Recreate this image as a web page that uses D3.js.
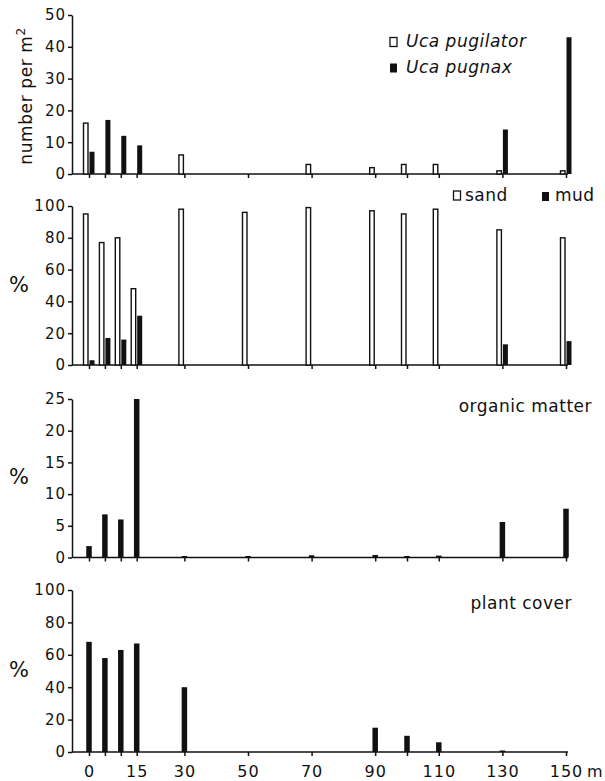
<!DOCTYPE html>
<html>
<head>
<meta charset="utf-8">
<script src="https://cdn.jsdelivr.net/npm/d3@7"></script>
<style>
  body { margin: 0; background: #fff; }
  svg { display: block; }
  text { font-family: "DejaVu Sans", sans-serif; fill: #111; }
</style>
</head>
<body>
<script>
// distances from the shore line (m)
const distances = [0, 5, 10, 15, 30, 50, 70, 90, 100, 110, 130, 150];
const labelledTicks = [0, 15, 30, 50, 70, 90, 110, 130, 150];

// crab densities (number per m2)
const pugilator = [16, 0, 0, 0, 6, 0, 3, 2, 3, 3, 1, 1];
const pugnax = [7, 17, 12, 9, 0, 0, 0, 0, 0, 0, 14, 43];

// sediment composition (%)
const sand = [95, 77, 80, 48, 98, 96, 99, 97, 95, 98, 85, 80];
const mud = [3, 17, 16, 31, 0, 0, 0, 0, 0, 0, 13, 15];

// organic matter (%)
const organic = [1.8, 6.8, 6, 25, 0.2, 0.2, 0.35, 0.4, 0.15, 0.3, 5.6, 7.7];

// plant cover (%)
const plantCover = [68, 58, 63, 67, 40, 0, 0, 15, 10, 6, 0.5, 0];

const width = 605, height = 781;
const axisLeftX = 72, axisRightX = 568;

const svg = d3.select("body").append("svg")
    .attr("width", width)
    .attr("height", height);

const x = d3.scaleLinear().domain([0, 150]).range([89, 566]);

const panels = [
    { top: 15, bottom: 174, max: 50, ticks: d3.range(0, 51, 10) },
    { top: 206, bottom: 365, max: 100, ticks: d3.range(0, 101, 20) },
    { top: 399, bottom: 557.5, max: 25, ticks: d3.range(0, 26, 5) },
    { top: 590, bottom: 752, max: 100, ticks: d3.range(0, 101, 20) }
];

function drawPanel(p, i) {
    const y = d3.scaleLinear().domain([0, p.max]).range([p.bottom, p.top]);
    const g = svg.append("g");

    // y axis
    const yAxis = g.append("g")
        .attr("transform", `translate(${axisLeftX},0)`)
        .call(d3.axisLeft(y).tickValues(p.ticks).tickSize(4).tickSizeOuter(0).tickPadding(2));
    yAxis.select(".domain").attr("stroke", "#111").attr("stroke-width", 1.5);
    yAxis.selectAll(".tick line").attr("stroke", "#111").attr("stroke-width", 1.5);
    yAxis.selectAll(".tick text")
        .attr("font-family", "DejaVu Sans, sans-serif")
        .attr("font-size", 15)
        .attr("letter-spacing", 1)
        .attr("fill", "#111");

    // x axis
    const xAxis = g.append("g")
        .attr("transform", `translate(0,${p.bottom})`)
        .call(d3.axisBottom(x).tickValues(distances).tickSize(4).tickSizeOuter(0).tickPadding(10)
            .tickFormat(d => (i === 3 && labelledTicks.includes(d)) ? d : ""));
    xAxis.select(".domain").remove();
    xAxis.selectAll(".tick line").attr("stroke", "#111").attr("stroke-width", 1.5);
    xAxis.selectAll(".tick text")
        .attr("font-family", "DejaVu Sans, sans-serif")
        .attr("font-size", 16)
        .attr("letter-spacing", 1)
        .attr("fill", "#111");

    g.append("line")
        .attr("x1", axisLeftX).attr("x2", axisRightX)
        .attr("y1", p.bottom).attr("y2", p.bottom)
        .attr("stroke", "#111").attr("stroke-width", 1.5);

    return { g, y, xAxis };
}

const [p1, p2, p3, p4] = panels.map(drawPanel);

// paired bars: open bar left of the tick, filled bar right of it
function pairedBars(panel, open, filled) {
    const data = distances.map((d, i) => ({ d, open: open[i], filled: filled[i] }));
    panel.g.selectAll(".open")
        .data(data.filter(e => e.open > 0))
        .join("rect")
        .attr("x", e => x(e.d) - 5.5)
        .attr("width", 4.5)
        .attr("y", e => panel.y(e.open))
        .attr("height", e => panel.y(0) - panel.y(e.open))
        .attr("fill", "#fff")
        .attr("stroke", "#111")
        .attr("stroke-width", 1.4);
    panel.g.selectAll(".filled")
        .data(data.filter(e => e.filled > 0))
        .join("rect")
        .attr("x", e => x(e.d) + 0.5)
        .attr("width", 5)
        .attr("y", e => panel.y(e.filled))
        .attr("height", e => panel.y(0) - panel.y(e.filled))
        .attr("fill", "#111");
}

function singleBars(panel, values) {
    const data = distances.map((d, i) => ({ d, v: values[i] }));
    panel.g.selectAll(".single")
        .data(data.filter(e => e.v > 0))
        .join("rect")
        .attr("x", e => x(e.d) - 2.75)
        .attr("width", 5.5)
        .attr("y", e => Math.min(panel.y(e.v), panel.y(0) - 1.5))
        .attr("height", e => Math.max(panel.y(0) - panel.y(e.v), 1.5))
        .attr("fill", "#111");
}

pairedBars(p1, pugilator, pugnax);
pairedBars(p2, sand, mud);
singleBars(p3, organic);
singleBars(p4, plantCover);

// y axis titles
svg.append("text")
    .attr("transform", "translate(32,96) rotate(-90)")
    .attr("text-anchor", "middle")
    .attr("font-size", 17)
    .attr("letter-spacing", 0.6)
    .html('number per m<tspan dy="-7" font-size="12">2</tspan>');

[[p2, 285], [p3, 477], [p4, 670]].forEach(([p, cy]) => {
    svg.append("text")
        .attr("x", 19).attr("y", cy + 7)
        .attr("text-anchor", "middle")
        .attr("font-size", 21)
        .text("%");
});

// legends and panel labels
function legendItem(sx, sy, filled, label, tx, ty, italic) {
    svg.append("rect")
        .attr("x", sx).attr("y", sy)
        .attr("width", 7).attr("height", 9)
        .attr("fill", filled ? "#111" : "#fff")
        .attr("stroke", "#111")
        .attr("stroke-width", filled ? 0 : 1.3);
    svg.append("text")
        .attr("x", tx).attr("y", ty)
        .attr("font-size", 17)
        .attr("font-style", italic ? "italic" : "normal")
        .attr("letter-spacing", 0.5)
        .text(label);
}

legendItem(390, 37.5, false, "Uca pugilator", 406, 47, true);
legendItem(390, 63.5, true, "Uca pugnax", 406, 73, true);
legendItem(453.5, 191, false, "sand", 465, 201, false);
legendItem(542, 192, true, "mud", 555, 201, false);

svg.append("text")
    .attr("x", 592).attr("y", 412)
    .attr("text-anchor", "end")
    .attr("font-size", 17)
    .attr("letter-spacing", 0.5)
    .text("organic matter");

svg.append("text")
    .attr("x", 572).attr("y", 609)
    .attr("text-anchor", "end")
    .attr("font-size", 17)
    .attr("letter-spacing", 0.5)
    .text("plant cover");

// unit after the last distance label, on the same line as the tick labels
p4.xAxis.append("text")
    .attr("x", 587).attr("y", 14)
    .attr("dy", "0.71em")
    .attr("font-size", 16)
    .attr("fill", "#111")
    .attr("text-anchor", "start")
    .text("m");
</script>
</body>
</html>
